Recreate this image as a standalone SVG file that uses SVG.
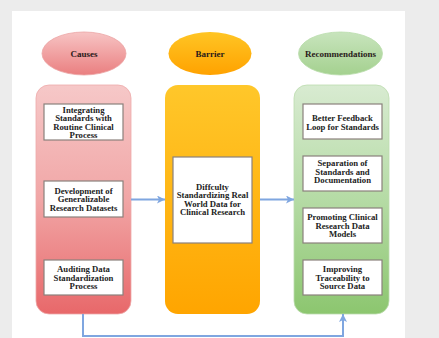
<svg xmlns="http://www.w3.org/2000/svg" width="439" height="338" viewBox="0 0 439 338">
<defs>
<linearGradient id="gRedE" x1="0" y1="0" x2="0" y2="1"><stop offset="0" stop-color="#f7c4c4"/><stop offset="1" stop-color="#ea7f80"/></linearGradient>
<linearGradient id="gRedC" x1="0" y1="0" x2="0" y2="1"><stop offset="0" stop-color="#f6c8c8"/><stop offset="0.5" stop-color="#f1a6a6"/><stop offset="1" stop-color="#e8686a"/></linearGradient>
<linearGradient id="gOrE" x1="0" y1="0" x2="0" y2="1"><stop offset="0" stop-color="#ffc524"/><stop offset="1" stop-color="#ffa200"/></linearGradient>
<linearGradient id="gOrC" x1="0" y1="0" x2="0" y2="1"><stop offset="0" stop-color="#ffc72a"/><stop offset="1" stop-color="#ffa500"/></linearGradient>
<linearGradient id="gGrE" x1="0" y1="0" x2="0" y2="1"><stop offset="0" stop-color="#c8e4bd"/><stop offset="1" stop-color="#a4d18f"/></linearGradient>
<linearGradient id="gGrC" x1="0" y1="0" x2="0" y2="1"><stop offset="0" stop-color="#d8ebd1"/><stop offset="0.5" stop-color="#b5dba5"/><stop offset="1" stop-color="#8cc66f"/></linearGradient>
<marker id="ah" viewBox="0 0 10 10" refX="10" refY="5" markerWidth="8" markerHeight="8" markerUnits="userSpaceOnUse" orient="auto"><path d="M0,0 L10,5 L0,10 L2.5,5 Z" fill="#7fa6e0"/></marker>
</defs>
<style>
text{font-family:"Liberation Serif","Times New Roman",serif;font-weight:bold;fill:#222;text-anchor:middle;font-size:8.7px}
.h{font-size:9px;fill:#2a1a1a}
.box{fill:#fff;stroke:#8a817c;stroke-width:1.2}
.conn{fill:none;stroke:#7fa6e0;stroke-width:2}
</style>
<rect x="0" y="0" width="439" height="338" fill="#ececec"/>
<rect x="12" y="11" width="393" height="327" fill="#fff"/>

<g id="causes-header"><ellipse cx="84" cy="53.5" rx="42" ry="21.5" fill="url(#gRedE)" stroke="#eba3a3" stroke-width="0.8"/><text class="h" x="84" y="56.5">Causes</text></g>
<g id="barrier-header"><ellipse cx="210" cy="53.5" rx="41.5" ry="21.5" fill="url(#gOrE)"/><text class="h" x="210" y="56.5">Barrier</text></g>
<g id="recommendations-header"><ellipse cx="340.5" cy="53.5" rx="42" ry="21.5" fill="url(#gGrE)" stroke="#b8dca9" stroke-width="0.8"/><text class="h" x="340.5" y="56.5">Recommendations</text></g>

<g id="causes-column"><rect x="36" y="85" width="95" height="229" rx="13" fill="url(#gRedC)" stroke="#eeaaaa" stroke-width="0.8"/></g>
<g id="barrier-column"><rect x="165" y="85" width="95" height="229" rx="13" fill="url(#gOrC)"/></g>
<g id="recommendations-column"><rect x="294" y="85" width="95" height="229" rx="13" fill="url(#gGrC)" stroke="#bcdcaf" stroke-width="0.8"/></g>

<g id="cause1"><rect class="box" x="44" y="104" width="79" height="36"/>
<text x="83.5" y="112.8">Integrating</text><text x="83.5" y="121.3">Standards with</text><text x="83.5" y="129.8">Routine Clinical</text><text x="83.5" y="138.3">Process</text></g>
<g id="cause2"><rect class="box" x="44" y="181" width="79" height="36"/>
<text x="83.5" y="193.7">Development of</text><text x="83.5" y="202.2">Generalizable</text><text x="83.5" y="210.7">Research Datasets</text></g>
<g id="cause3"><rect class="box" x="44" y="260" width="79" height="35"/>
<text x="83.5" y="272.3">Auditing Data</text><text x="83.5" y="280.8">Standardization</text><text x="83.5" y="289.3">Process</text></g>

<g id="barrier1"><rect class="box" x="173" y="157" width="79" height="86"/>
<text x="212.5" y="189.8">Diffculty</text><text x="212.5" y="198.3">Standardizing Real</text><text x="212.5" y="206.8">World Data for</text><text x="212.5" y="215.3">Clinical Research</text></g>

<g id="rec1"><rect class="box" x="303" y="104" width="79" height="35"/>
<text x="342.5" y="121">Better Feedback</text><text x="342.5" y="129.5">Loop for Standards</text></g>
<g id="rec2"><rect class="box" x="303" y="156" width="79" height="35"/>
<text x="342.5" y="166.3">Separation of</text><text x="342.5" y="174.8">Standards and</text><text x="342.5" y="183.3">Documentation</text></g>
<g id="rec3"><rect class="box" x="303" y="208" width="79" height="35"/>
<text x="342.5" y="220.3">Promoting Clinical</text><text x="342.5" y="228.8">Research Data</text><text x="342.5" y="237.3">Models</text></g>
<g id="rec4"><rect class="box" x="303" y="260" width="79" height="35"/>
<text x="342.5" y="272.3">Improving</text><text x="342.5" y="280.8">Traceability to</text><text x="342.5" y="289.3">Source Data</text></g>

<g id="connectors">
<line class="conn" x1="131" y1="199.5" x2="165" y2="199.5" marker-end="url(#ah)"/>
<line class="conn" x1="260" y1="199.5" x2="294" y2="199.5" marker-end="url(#ah)"/>
<polyline class="conn" points="83,314 83,336 343,336 343,314" marker-end="url(#ah)"/>
</g>
</svg>
